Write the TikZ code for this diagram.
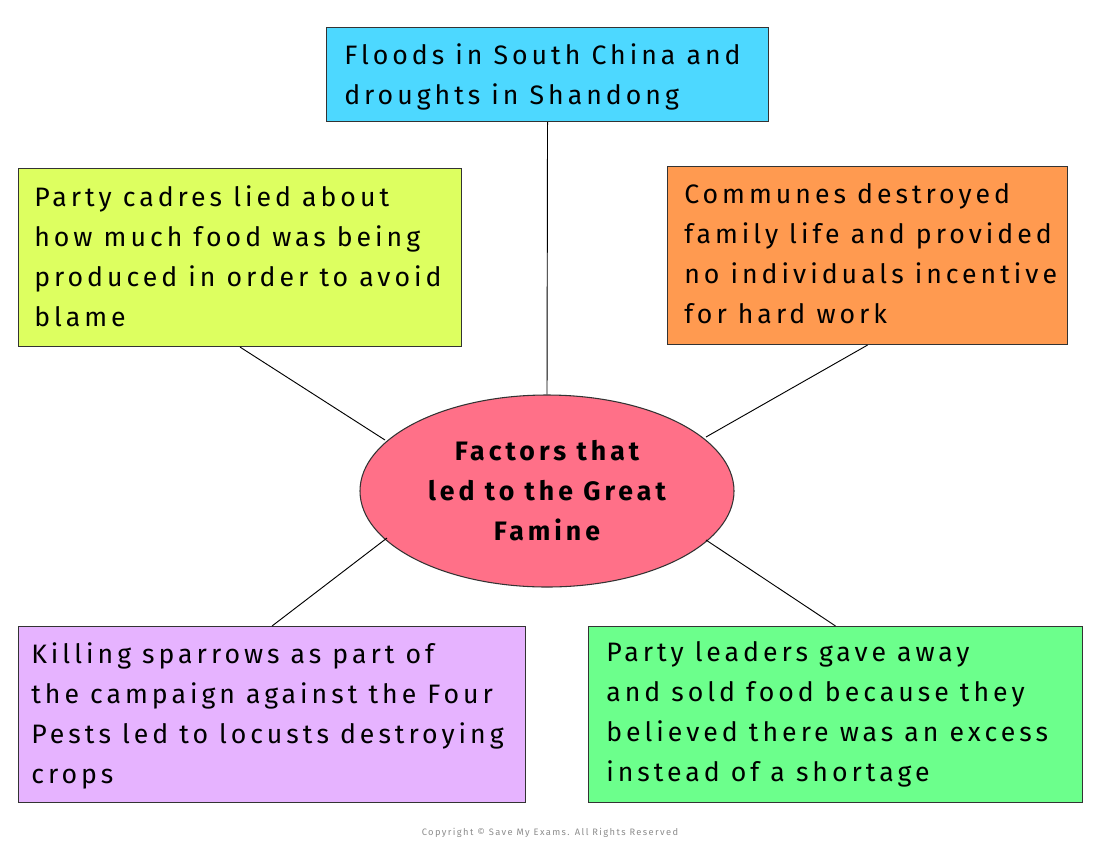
\documentclass[tikz,border=0pt]{standalone}
\usepackage{fontspec}
\setmainfont[LetterSpace=15]{Fira Sans}
\usetikzlibrary{shapes.geometric}
\definecolor{ccyan}{HTML}{4DD8FF}
\definecolor{clime}{HTML}{DDFF60}
\definecolor{corange}{HTML}{FF9A50}
\definecolor{clilac}{HTML}{E6B3FF}
\definecolor{cgreen}{HTML}{6CFF8C}
\definecolor{cpink}{HTML}{FF7088}
\begin{document}
\begin{tikzpicture}[x=0.75pt,y=-0.75pt,
  box/.style={draw=black!80,line width=0.8pt},
  txt/.style={anchor=north west,align=left,inner sep=0pt,font=\fontsize{20}{30}\selectfont},
  link/.style={draw=black,line width=0.7pt}]
\useasboundingbox (0,0) rectangle (1100,851);
\node[box,fill=ccyan,minimum width=442*0.75pt,minimum height=94*0.75pt,anchor=north west] (top) at (326,27) {};
\node[txt] (toptxt) at (344,43) {Floods in South China and\\droughts in Shandong};
\node[box,fill=clime,minimum width=443*0.75pt,minimum height=178*0.75pt,anchor=north west] (tl) at (18,168) {};
\node[txt] (tltxt) at (34,185) {Party cadres lied about\\how much food was being\\produced in order to avoid\\blame};
\node[box,fill=corange,minimum width=400*0.75pt,minimum height=178*0.75pt,anchor=north west] (tr) at (667,166) {};
\node[txt] (trtxt) at (684,183) {Communes destroyed\\family life and provided\\no individuals incentive\\for hard work};
\node[box,fill=clilac,minimum width=507*0.75pt,minimum height=176*0.75pt,anchor=north west] (bl) at (18,626) {};
\node[txt] (bltxt) at (31,642) {Killing sparrows as part of\\the campaign against the Four\\Pests led to locusts destroying\\crops};
\node[box,fill=cgreen,minimum width=494*0.75pt,minimum height=176*0.75pt,anchor=north west] (br) at (588,626) {};
\node[txt] (brtxt) at (606,641) {Party leaders gave away\\and sold food because they\\believed there was an excess\\instead of a shortage};
\node[ellipse,draw=black!80,line width=0.8pt,fill=cpink,minimum width=374*0.75pt,minimum height=192*0.75pt,align=center,font=\fontsize{20}{30}\selectfont\bfseries] (el) at (547,491) {Factors that\\led to the Great\\Famine};
\coordinate (ea) at (385,440);
\coordinate (eb) at (706,437);
\coordinate (ec) at (387,538);
\coordinate (ed) at (706,540);
\draw[link] (top.south) -- (el.north);
\draw[link] (tl.south) -- (ea);
\draw[link] (tr.south) -- (eb);
\draw[link] (bl.north) -- (ec);
\draw[link] (br.north) -- (ed);
\node[font=\fontsize{7}{8}\selectfont,text=black!45] (copy) at (550,833) {Copyright © Save My Exams. All Rights Reserved};
\end{tikzpicture}
\end{document}
